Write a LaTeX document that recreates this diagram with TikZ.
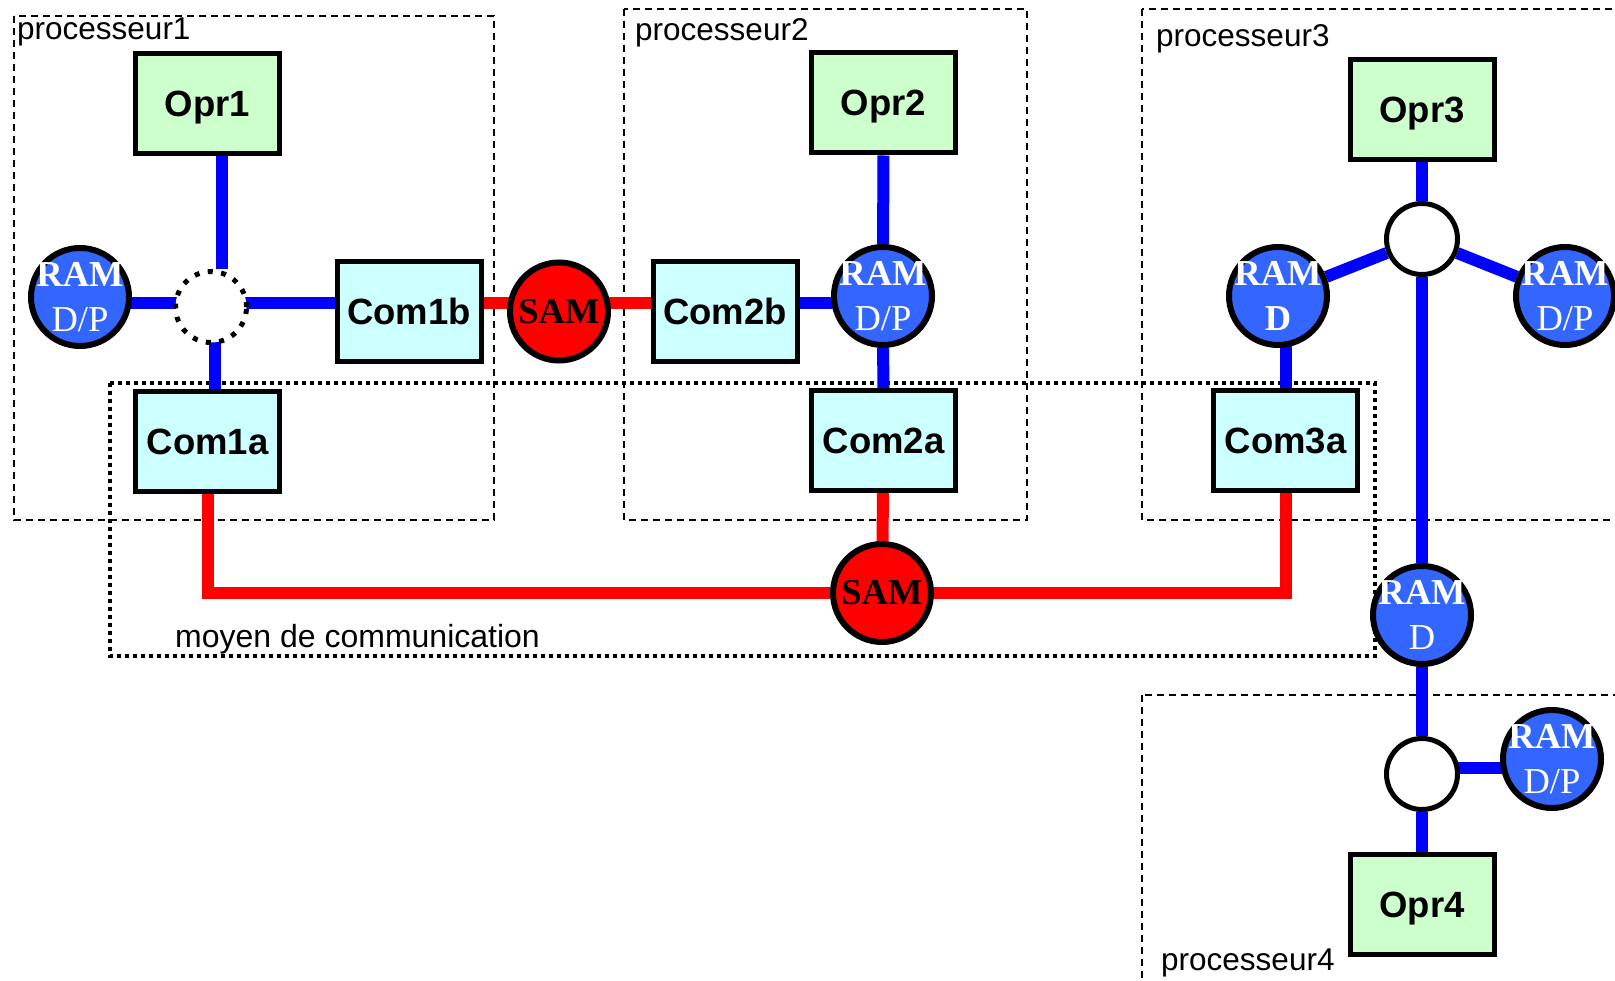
\documentclass[tikz,border=0pt]{standalone}
\usepackage{fontspec}
\setmainfont{Liberation Sans}
\newfontfamily\ramfont{Liberation Serif}
\definecolor{oprfill}{HTML}{CCFFCC}
\definecolor{comfill}{HTML}{CCFFFF}
\definecolor{ramfill}{HTML}{3366FF}
\definecolor{busblue}{HTML}{0000FF}
\pgfdeclarelayer{frames}
\pgfdeclarelayer{wires}
\pgfsetlayers{frames,wires,main}

\begin{document}
\begin{tikzpicture}[x=1pt,y=-1pt,
  procbox/.style={draw=black, line width=2pt, dash pattern=on 7pt off 5pt},
  commbox/.style={draw=black, line width=4pt, dash pattern=on 4pt off 4pt},
  unit/.style={draw=black, line width=5pt, minimum width=144pt, minimum height=100pt,
    inner sep=0pt, text depth=0pt, font=\fontsize{36.5}{36.5}\selectfont\bfseries},
  opr/.style={unit, fill=oprfill},
  com/.style={unit, fill=comfill},
  ram/.style={circle, draw=black, line width=6pt, fill=ramfill, minimum size=98pt, inner sep=0pt},
  ramlbl/.style={text=white, align=center, inner sep=0pt,
    font=\fontsize{36.5}{45}\selectfont\ramfont},
  sam/.style={circle, draw=black, line width=6pt, fill=red, minimum size=98pt, inner sep=0pt,
    font=\fontsize{36.5}{36.5}\selectfont\ramfont\bfseries},
  hub/.style={circle, draw=black, line width=5pt, fill=white, minimum size=71pt, inner sep=0pt},
  bus/.style={draw=busblue, line width=12pt},
  link/.style={draw=red, line width=12pt},
  tag/.style={anchor=base west, inner sep=0pt, font=\fontsize{31.5}{31.5}\selectfont}
]
\useasboundingbox (0,0) rectangle (1615,981);

% operator and communicator boxes
\node[opr] (Opr1)  at (207.5,103.5) {Opr1};
\node[com] (Com1a) at (207.5,441.5) {Com1a};
\node[com] (Com1b) at (409,311.5)   {Com1b};
\node[opr] (Opr2)  at (883.5,103)   {Opr2};
\node[com] (Com2b) at (725,311.5)   {Com2b};
\node[com] (Com2a) at (883.5,440.5) {Com2a};
\node[opr] (Opr3)  at (1422,109.5)  {Opr3};
\node[com] (Com3a) at (1285.5,440.5){Com3a};
\node[opr] (Opr4)  at (1422,904.5)  {Opr4};

% memories
\node[ram, label={[ramlbl]center:{\textbf{RAM}\\D/P}}] (RAM1)   at (80,297)   {};
\node[ram, label={[ramlbl]center:{\textbf{RAM}\\D/P}}] (RAM2)   at (883,296)  {};
\node[ram, label={[ramlbl]center:{\textbf{RAM}\\\textbf{D}}}] (RAM3D) at (1278,296) {};
\node[ram, label={[ramlbl]center:{\textbf{RAM}\\D/P}}] (RAM3DP) at (1565,296) {};
\node[ram, label={[ramlbl]center:{\textbf{RAM}\\D}}]   (RAM4D)  at (1422,615) {};
\node[ram, label={[ramlbl]center:{\textbf{RAM}\\D/P}}] (RAM4DP) at (1552,759) {};
\node[sam] (SAM1) at (559,311.5) {SAM};
\node[sam] (SAM2) at (882,593)   {SAM};

% bus junctions
\node[hub, dash pattern=on 5pt off 8.5pt] (J1) at (211,307) {};
\node[hub] (J3) at (1422,239) {};
\node[hub] (J4) at (1422,774) {};

% labels
\node[tag] (p1) at (17,40)   {processeur1};
\node[tag] (p2) at (635,41)  {processeur2};
\node[tag] (p3) at (1156,47) {processeur3};
\node[tag] (p4) at (1161,970){processeur4};
\node[tag, font=\fontsize{32}{32}\selectfont] (mc) at (175,647) {moyen de communication};

% processor frames and communication medium
\begin{pgfonlayer}{frames}
  \draw[procbox] (14,16) rectangle (494,520);
  \draw[procbox] (624,9) rectangle (1027,520);
  \draw[procbox] (1142,9) rectangle (1640,520);
  \draw[procbox] (1142,695) rectangle (1640,1000);
  \draw[commbox] (110,383) rectangle (1375,656);
\end{pgfonlayer}

% connections
\begin{pgfonlayer}{wires}
  \draw[bus] ([xshift=14.5pt]Opr1.south) -- ([xshift=14.5pt]Opr1.south |- J1.north);
  \draw[bus] ([yshift=-6pt]RAM1.center) -- ([yshift=-6pt]RAM1.center -| J1.center);
  \draw[bus] ([yshift=4pt]J1.center) -- ([yshift=4pt]J1.center -| Com1b.west);
  \draw[bus] ([xshift=4pt]J1.center) -- ([xshift=4pt]J1.center |- Com1a.north);
  \draw[bus] ([yshift=8.5pt]Com2b.center) -- ([yshift=8.5pt]Com2b.center -| RAM2.center);
  \draw[bus] (Opr2) -- (RAM2);
  \draw[bus] (RAM2) -- (Com2a);
  \draw[bus] (Com3a) -- (Com3a |- RAM3D);
  \draw[bus] (RAM3D) -- (J3);
  \draw[bus] (J3) -- (RAM3DP);
  \draw[bus] (Opr3) -- (J3);
  \draw[bus] (J3) -- (RAM4D);
  \draw[bus] (RAM4D) -- (J4);
  \draw[bus] ([yshift=-8.5pt]RAM4DP.center) -- ([yshift=-8.5pt]RAM4DP.center -| J4.center);
  \draw[bus] (J4) -- (Opr4);
  \draw[link] ([yshift=8.5pt]Com1b.center) -- ([yshift=8.5pt]Com1b.center -| SAM1.center);
  \draw[link] ([yshift=8.5pt]Com2b.center) -- ([yshift=8.5pt]Com2b.center -| SAM1.center);
  \draw[link] (Com2a) -- (SAM2);
  \draw[link] (Com1a) |- (SAM2);
  \draw[link] (Com3a) |- (SAM2);
\end{pgfonlayer}
\end{tikzpicture}
\end{document}
